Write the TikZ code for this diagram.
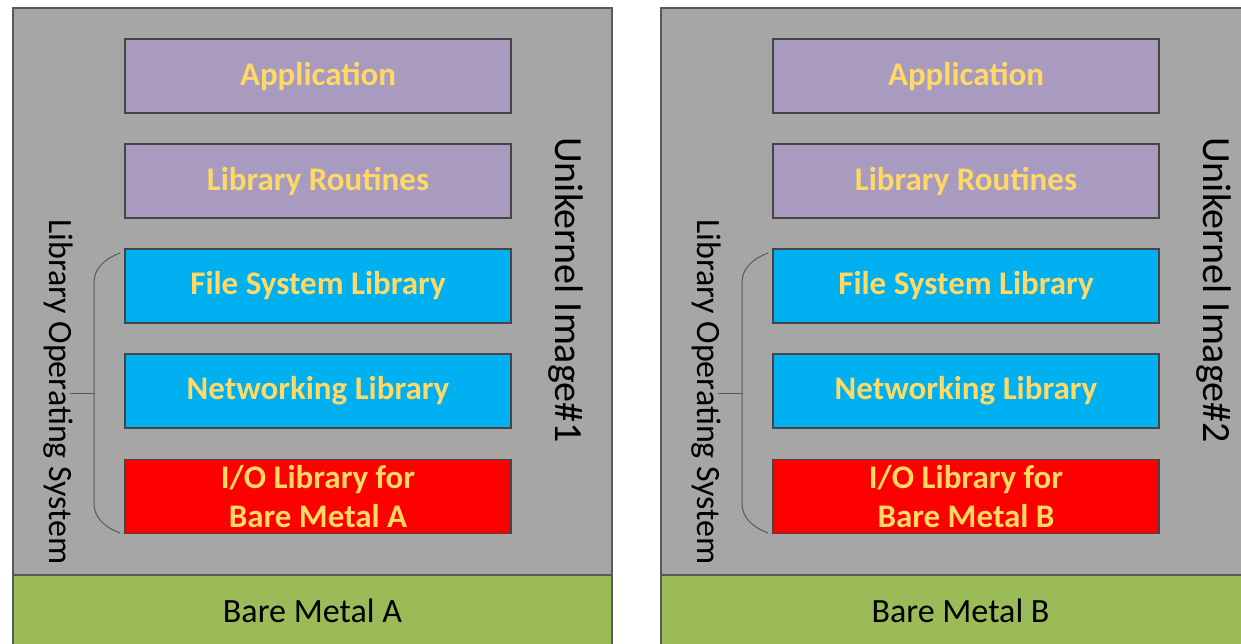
\documentclass[tikz,border=0pt]{standalone}
\usepackage{fontspec}
\setmainfont{Carlito}
\definecolor{panelgray}{HTML}{A6A6A6}
\definecolor{edgegray}{HTML}{595959}
\definecolor{lilac}{HTML}{A99AC0}
\definecolor{skyblue}{HTML}{00B0F0}
\definecolor{brightred}{HTML}{FF0000}
\definecolor{olive}{HTML}{9BBB59}
\definecolor{gold}{HTML}{FFD966}
\definecolor{boxedge}{HTML}{454545}
\tikzset{
  panel/.style={fill=panelgray, draw=edgegray, line width=1.5pt},
  base/.style={fill=olive, draw=edgegray, line width=1.5pt},
  layer/.style={draw=boxedge, line width=1.2pt, minimum width=386pt, minimum height=74pt,
    inner sep=0pt, text=gold, font=\fontsize{33}{39}\selectfont\bfseries, align=center},
  sidelabel/.style={rotate=-90, inner sep=0pt, font=\fontsize{34}{38}\selectfont},
  baselabel/.style={inner sep=0pt, font=\fontsize{34}{38}\selectfont},
  bracket/.style={draw=edgegray, line width=1pt}
}
\begin{document}
\begin{tikzpicture}[x=1pt, y=-1pt]
\useasboundingbox (0,0) rectangle (1241,644);
\fill[white] (0,0) rectangle (1241,644);
\foreach \p/\off/\m/\n in {1/0/A/1, 2/648/B/2} {
  \begin{scope}[xshift=\off pt]
    \draw[panel] (13,8) rectangle (612,575);
    \draw[base] (13,575) rectangle (612,660);
    \node[baselabel] (bm\p) at (312.5,611) {Bare Metal \m};
    \node[layer, fill=lilac] (app\p) at (318,76) {\raisebox{-2pt}{Application}};
    \node[layer, fill=lilac] (lr\p) at (318,181) {\raisebox{-2pt}{Library Routines}};
    \node[layer, fill=skyblue] (fs\p) at (318,286) {\raisebox{-2pt}{File System Library}};
    \node[layer, fill=skyblue] (net\p) at (318,391) {\raisebox{-2pt}{Networking Library}};
    \node[layer, fill=brightred] (io\p) at (318,496.5) {I/O Library for\\Bare Metal \m};
    \node[sidelabel, font=\fontsize{40}{44}\selectfont] (uk\p) at (566,290) {Unikernel Image\#\n};
    \node[sidelabel] (los\p) at (58,392) {Library Operating System};
    \coordinate (bt\p) at (120,253);
    \coordinate (bb\p) at (120,533);
    \coordinate (bm\p) at (94,393);
    \coordinate (tk\p) at (70,393);
    \draw[bracket] (bt\p) .. controls (102,260) and (94,270) .. (94,283)
      -- (94,503) .. controls (94,516) and (102,526) .. (bb\p);
    \draw[bracket] (tk\p) -- (bm\p);
  \end{scope}
}
\end{tikzpicture}
\end{document}
